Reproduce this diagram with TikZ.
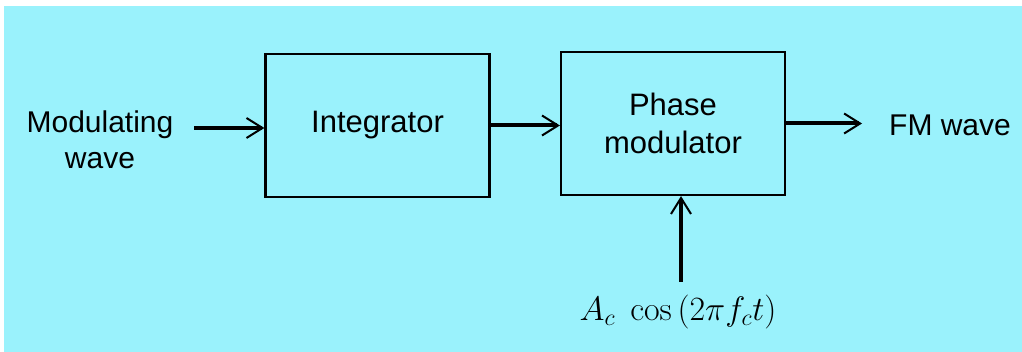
\RequirePackage{fix-cm}
\documentclass[tikz,border=0pt]{standalone}
\usepackage[no-math]{fontspec}
\setmainfont{Liberation Sans}
\usetikzlibrary{arrows.meta, positioning}
\definecolor{bgcyan}{HTML}{9AF2FC}

\begin{document}
\begin{tikzpicture}[x=1pt, y=-1pt,
    blk/.style={rectangle, draw, line width=2.2pt, minimum width=224pt,
        minimum height=143pt, align=center, font=\fontsize{31}{38}\selectfont},
    lbl/.style={align=center, inner sep=0pt, font=\fontsize{30}{36}\selectfont},
    ar/.style={-{Straight Barb[length=16pt, width=20pt, line width=2pt]}, line width=4pt}]
\useasboundingbox (0,0) rectangle (1022,352);
\fill[white] (0,0) rectangle (1022,352);
\fill[bgcyan] (4,6) rectangle (1022,352);
\node[blk] (I) at (377.5,125.5) {Integrator};
\node[blk] (P) at (673,123.5) {Phase\\modulator};
\node[lbl] (MW) at (100,140) {Modulating\\wave};
\node[lbl] (FM) at (950,125) {FM wave};
\node[lbl, font=\fontsize{34}{40}\selectfont] (CW) at (678,312) {$A_c\;\cos\left(2\pi f_c t\right)$};
\coordinate (in) at (194,128);
\coordinate (lo) at (681,282);
\coordinate (out) at (862,124);
\draw[ar] (in) -- (I.west |- in);
\draw[ar] (I.east) -- (P.west |- I.east);
\draw[ar] (P.east) -- (out |- P.east);
\draw[ar] (lo) -- (lo |- P.south);
\end{tikzpicture}
\end{document}
